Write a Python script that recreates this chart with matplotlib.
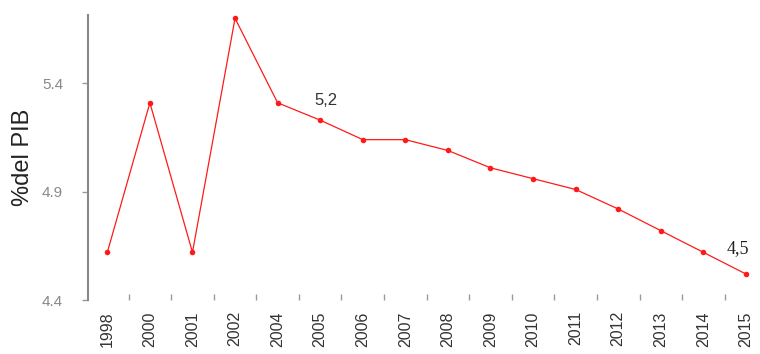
"""Line chart: % del PIB, 1998-2015."""
import matplotlib
matplotlib.use("Agg")
import matplotlib.pyplot as plt
import numpy as np

# --- Data ---
years = ["1998", "2000", "2001", "2002", "2004", "2005", "2006", "2007",
         "2008", "2009", "2010", "2011", "2012", "2013", "2014", "2015"]
values = [4.62, 5.31, 4.62, 5.70, 5.31, 5.23, 5.14, 5.14,
          5.09, 5.01, 4.96, 4.91, 4.82, 4.72, 4.62, 4.52]
y_ticks = [4.4, 4.9, 5.4]
y_tick_labels = ["4.4", "4.9", "5.4"]
annotations = {"2005": "5,2", "2015": "4,5"}

plt.rcParams["font.family"] = ["Liberation Sans", "DejaVu Sans"]

fig = plt.figure(figsize=(7.6, 3.54), dpi=100)
ax = fig.add_axes([0.116, 0.1525, 0.884, 0.805])

x = np.arange(len(years))
ax.plot(x, values, color="#ff1a1a", linewidth=0.9, marker="o",
        markersize=4, markeredgewidth=0)

# value labels
ax.annotate(annotations["2005"], (years.index("2005"), values[years.index("2005")]),
            xytext=(4, 9), textcoords="offset points", ha="center", va="bottom",
            fontsize=12, color="#333333")
ax.annotate(annotations["2015"], (years.index("2015"), values[years.index("2015")]),
            xytext=(-6, 12), textcoords="offset points", ha="center", va="bottom",
            fontsize=13, color="#222222", family="Liberation Serif")

ax.set_xlim(-0.45, 15.33)
ax.set_ylim(4.4, 5.715)

ax.set_xticks(x)
ax.set_xticklabels(years, rotation=90, fontsize=11.5, color="#333333")
ax.set_xticks(x[:-1] + 0.5, minor=True)
ax.tick_params(axis="x", which="major", length=0, pad=8)
ax.tick_params(axis="x", which="minor", direction="in", length=4,
               width=1, color="#999999")

ax.set_yticks(y_ticks)
ax.set_yticklabels(y_tick_labels, fontsize=11, color="#888888")
ax.tick_params(axis="y", length=4, width=1, color="#999999", pad=14)

ax.set_ylabel("%del PIB", fontsize=17, color="#222222", labelpad=6)

for side in ["top", "right", "bottom"]:
    ax.spines[side].set_visible(False)
ax.spines["left"].set_color("#888888")
ax.spines["left"].set_linewidth(1.5)

fig.savefig("out.png", dpi=100)
plt.close(fig)
